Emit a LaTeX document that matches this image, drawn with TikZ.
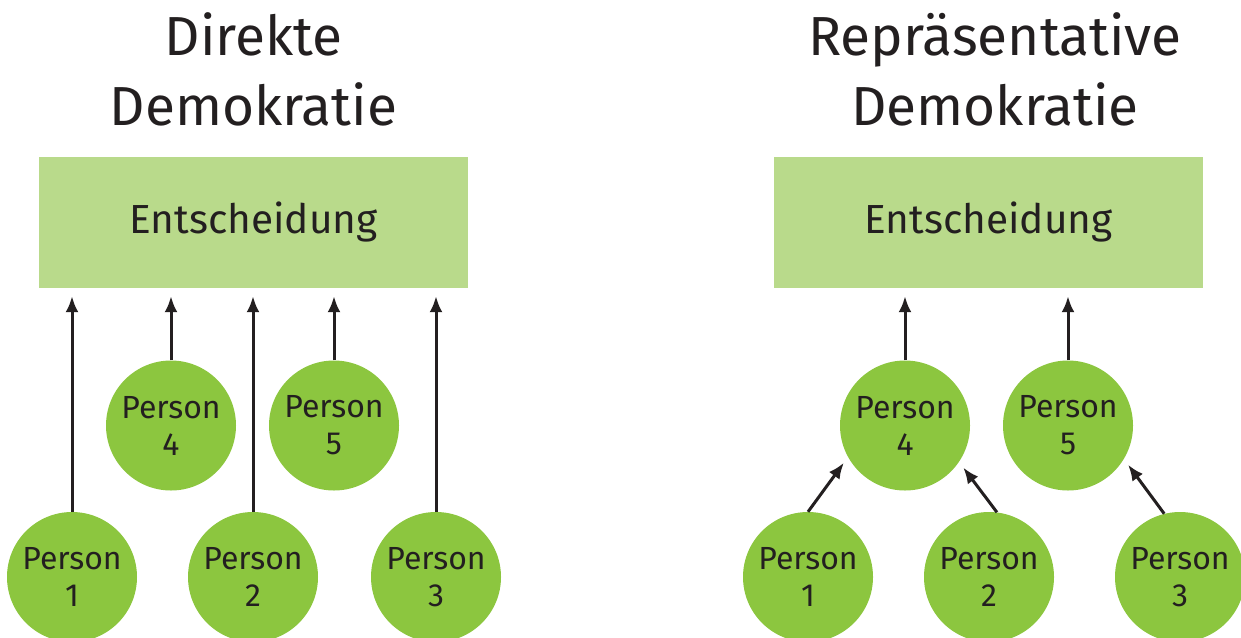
\documentclass[tikz,border=0pt]{standalone}
\usepackage{fontspec}
\setmainfont{Fira Sans}
\usetikzlibrary{arrows.meta}
\definecolor{circgreen}{HTML}{8CC63F}
\definecolor{boxgreen}{HTML}{B9DA8B}
\definecolor{ink}{HTML}{231F20}
\tikzset{
  title/.style={font=\fontsize{55}{70}\selectfont, text=ink, anchor=base, inner sep=0pt},
  decision/.style={fill=boxgreen, draw=none, minimum width=429pt, minimum height=131pt, inner sep=0pt},
  dlabel/.style={font=\fontsize{40.6}{48}\selectfont, text=ink, anchor=base, inner sep=0pt},
  person/.style={circle, fill=circgreen, draw=none, minimum size=130pt, inner sep=0pt, align=center,
     font=\fontsize{32}{37}\selectfont, text=ink},
  arr/.style={draw=ink, line width=3pt, -{Latex[length=16pt,width=13pt]}},
}
\begin{document}
\begin{tikzpicture}[x=1pt,y=-1pt]
\useasboundingbox (0,0) rectangle (1241,637);
% titles
\node[title] (t1a) at (253.5,55) {Direkte};
\node[title] (t1b) at (253.5,125) {Demokratie};
\node[title] (t2a) at (995,55) {Repräsentative};
\node[title] (t2b) at (995,125) {Demokratie};
% decision boxes
\node[decision] (e1) at (253.5,222.5) {};
\node[dlabel] (e1t) at (253.5,233) {Entscheidung};
\node[decision] (e2) at (988.5,222.5) {};
\node[dlabel] (e2t) at (988.5,233) {Entscheidung};
% left persons
\node[person] (p1) at (72,577) {Person\\1};
\node[person] (p2) at (253,577) {Person\\2};
\node[person] (p3) at (436,577) {Person\\3};
\node[person] (p4) at (171,425.5) {Person\\4};
\node[person] (p5) at (334,425.5) {Person\\5};
% right persons
\node[person] (q1) at (808,577) {Person\\1};
\node[person] (q2) at (989,577) {Person\\2};
\node[person] (q3) at (1180,577) {Person\\3};
\node[person] (q4) at (905,425.5) {Person\\4};
\node[person] (q5) at (1068,425.5) {Person\\5};
% left arrows
\foreach \p in {p1,p2,p3,p4,p5}
  \draw[arr, shorten >=8pt] (\p.north) -- (\p.north |- e1.south);
% right arrows
\foreach \p in {q4,q5}
  \draw[arr, shorten >=8pt] (\p.north) -- (\p.north |- e2.south);
\draw[arr, shorten >=7pt] (q1.north) -- (q4.209);
\draw[arr, shorten >=7pt] (q2.83) -- (q4.326);
\draw[arr, shorten >=7pt] (q3.104) -- (q5.329);
\end{tikzpicture}
\end{document}
